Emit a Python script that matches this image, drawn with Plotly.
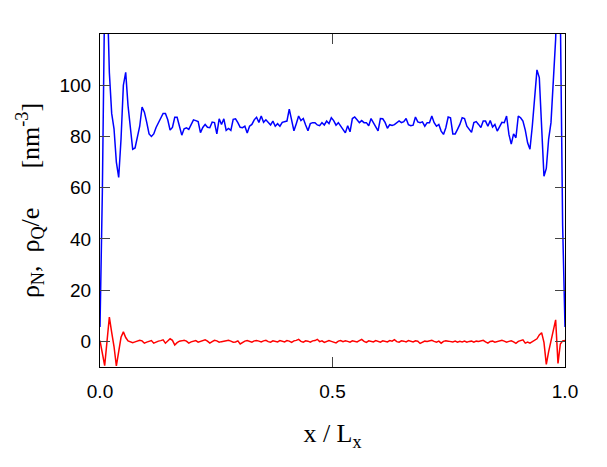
from plotly.graph_objects import Figure as plotly_Figure, Scatter as plotly_Scatter

# number density rho_N, one value per bin across the slab
rho_n = [
    5.6, 58, 135, 140, 105, 89, 83, 70, 64, 79,
    100, 105, 92, 84, 75, 75.5, 80, 84, 91.5, 89.5,
    85.5, 81, 80, 81, 83.5, 85.4, 87.5, 89, 89, 86.5,
    82.5, 83.5, 87.5, 87.5, 84, 80.5, 83, 83.4, 82.8, 84.7,
    86.5, 86.2, 85.8, 81.5, 83.5, 84.7, 83.6, 83.4, 85.6, 85.4,
    81, 86.9, 84.7, 86.9, 82.4, 83.1, 82.4, 86.7, 86.9, 85.4,
    83.6, 83.4, 84, 81.4, 84, 84.7, 86.5, 87.5, 85.5, 88,
    85.5, 86.5, 85.5, 84.5, 86, 84, 85, 84, 85.5, 85.7,
    86, 90.7, 86, 82.2, 85, 88, 86.2, 87, 84.5, 82.2,
    85, 85.4, 85.4, 84.5, 84.2, 85.4, 84.5, 86, 85, 87.3,
    86.2, 84.4, 85.4, 84, 82.6, 81.4, 84.2, 81.8, 87, 87.6,
    86.5, 85.4, 86.2, 85.4, 85.4, 84.2, 87, 85.4, 83.5, 82.2,
    87, 86.9, 85.5, 83.2, 84.6, 84.3, 84.6, 85.4, 86.1, 85.4,
    85.8, 87, 84.6, 84.2, 84.4, 87.6, 85.7, 85.4, 85.7, 84,
    85.4, 85.4, 88, 85.4, 84, 84.7, 82.1, 80.8, 83.4, 87.6,
    87.3, 81, 81, 82.8, 84.7, 87.3, 87, 84, 82.8, 81.6,
    85.4, 85.8, 84.7, 83.5, 86, 86, 84, 86.2, 83.7, 84.7,
    82.1, 84, 85.5, 85.4, 88, 80.8, 77, 81, 79.5, 88,
    87.3, 86, 82.5, 77.5, 75, 84, 95, 106, 103, 86,
    64.5, 67.5, 79, 85.4, 101, 118, 150, 128, 45, 5.6,
]

# charge density rho_Q / e
rho_q = [
    0.3, -4.5, -9.5, 0, 9.5, 3.5, -2, -9.6, -3, 1.6,
    3.7, 1.5, 0.2, -0.3, -0.5, -0.2, 0.1, 0.4, 0.2, -0.7,
    -0.3, 0.1, 0.3, -0.7, -0.2, 0.1, 0.3, 0.6, -0.7, 0.2,
    1.0, 0.4, -1.4, -0.5, 0.1, 0.2, 0.4, 0.1, -0.7, -0.2,
    0.1, 0.3, -0.3, 0.0, 0.2, 0.6, 0.1, -0.7, -0.1, 0.4,
    0.2, -0.3, -0.1, 0.1, 0.3, 0.4, 0.1, -0.3, -0.2, 0.2,
    -1.0, -0.4, 0.1, 0.3, -0.1, -0.3, 0.2, 0.3, 0.1, -0.2,
    0.2, 0.4, -0.1, -0.3, 0.2, 0.1, -0.2, 0.3, 0.0, -0.2,
    0.3, 0.1, -0.4, 0.2, 0.4, 0.8, 0.0, -0.3, 0.2, 0.1,
    -0.3, 0.2, 0.3, 0.8, -0.1, 0.2, -0.4, 0.1, 0.3, 0.0,
    -0.2, -0.6, 0.1, 0.3, -0.1, 0.2, 0.0, -0.3, 0.2, 0.1,
    -0.2, 0.3, 0.8, 0.0, -0.4, 0.2, 0.1, -0.2, 0.3, 0.1,
    -0.3, 0.2, 0.0, -0.2, 0.3, 0.1, 0.7, -0.1, -0.3, 0.2,
    0.1, -0.2, 0.3, 0.0, -0.2, 0.2, 0.1, -0.8, -0.5, 0.1,
    0.0, 0.2, 0.4, 0.0, -0.3, 0.1, -0.7, 0.0, 0.2, 0.1,
    0.0, -0.2, 0.1, -0.3, 0.0, -0.2, 0.1, -0.3, 0.0, 0.1,
    -0.3, 0.1, 0.0, 0.2, 0.4, -0.2, -0.7, 0.0, 0.1, -0.3,
    0.0, 0.2, 0.4, 0.1, -0.3, 0.0, 0.2, -0.2, -0.8, 0.0,
    0.3, 0.6, -0.7, -0.3, -0.7, -0.2, 0.2, 1.0, 2.5, 3.4,
    -0.4, -9, -4, 0, 5, 8.4, -8.6, -1, 0.2, 0.3,
]

# bins are evenly spread over x / L_x
x_pos = [i / (len(rho_n) - 1) for i in range(len(rho_n))]

x_tickvals = [0, 0.5, 1]
x_ticktext = ["0.0", "0.5", "1.0"]
y_tickvals = [0, 20, 40, 60, 80, 100]

tick_font = dict(family="Liberation Sans", size=19, color="black")
title_font = dict(family="Liberation Serif", size=26, color="black")

fig = plotly_Figure()
fig.add_trace(
    plotly_Scatter(x=x_pos, y=rho_q, mode="lines", line=dict(color="#ff0000", width=1.5))
)
fig.add_trace(
    plotly_Scatter(x=x_pos, y=rho_n, mode="lines", line=dict(color="#0000ff", width=1.5))
)

axis_common = dict(
    showgrid=False,
    zeroline=False,
    showline=True,
    linecolor="black",
    linewidth=1,
    mirror="ticks",
    ticks="inside",
    ticklen=10,
    tickcolor="#444444",
    tickwidth=1,
    tickfont=tick_font,
)
fig.update_xaxes(
    range=[0, 1],
    tickvals=x_tickvals,
    ticktext=x_ticktext,
    ticklabelstandoff=7,
    title=dict(text="x / L<sub>x</sub>", font=title_font, standoff=23),
    **axis_common,
)
# trailing nbsp nudges the rotated label a little toward the bottom
y_title = (
    "ρ<sub>N</sub>,\u00a0\u00a0ρ<sub>Q</sub>/e"
    + "\u00a0" * 6
    + "[nm<sup>-3</sup>]"
    + "\u00a0" * 3
)
fig.update_yaxes(
    range=[-10, 120],
    tickvals=y_tickvals,
    ticklabelstandoff=4,
    title=dict(text=y_title, font=title_font, standoff=12),
    **axis_common,
)
# the page body adds an 8px offset, so the figure is trimmed to fit the window
fig.update_layout(
    width=599,
    height=459,
    margin=dict(l=92, r=42, t=26, b=100),
    plot_bgcolor="white",
    paper_bgcolor="white",
    showlegend=False,
)
fig.write_html("out.html")
